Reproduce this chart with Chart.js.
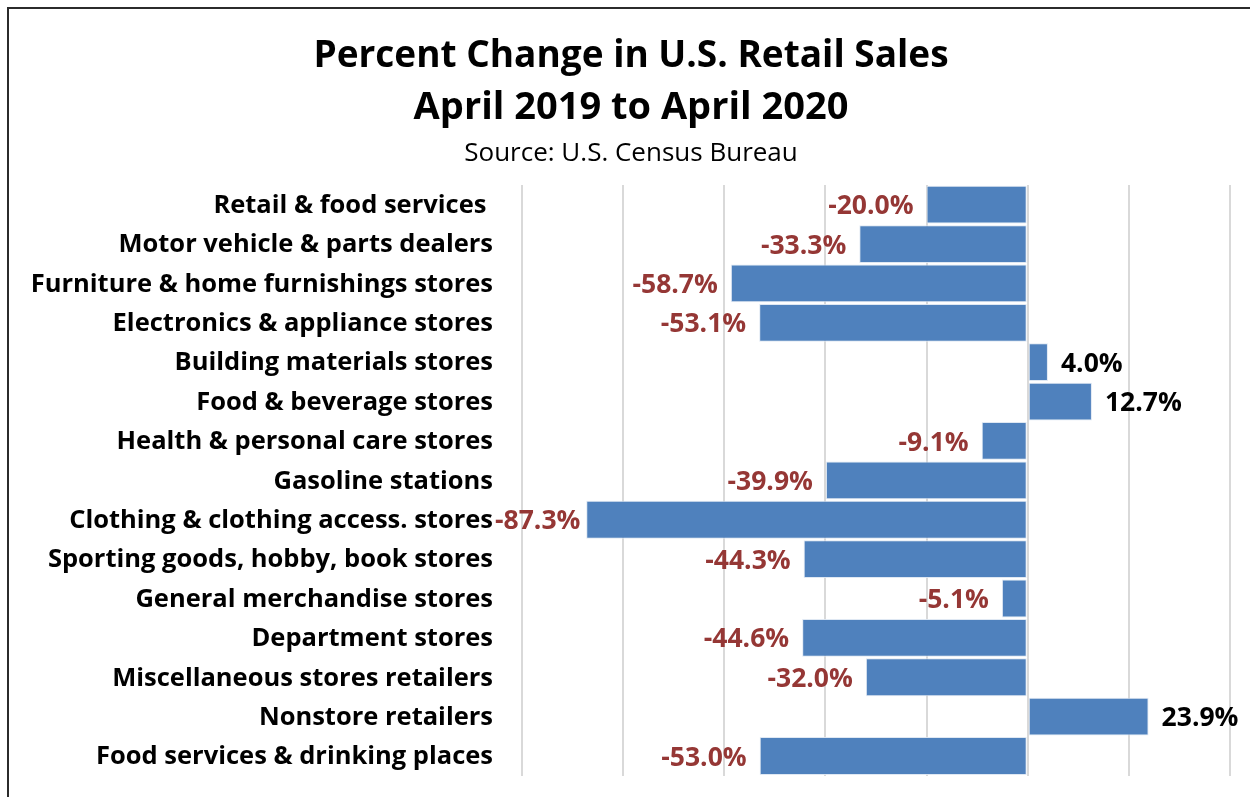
<!DOCTYPE html>
<html>
<head>
<meta charset="utf-8">
<script src="https://cdn.jsdelivr.net/npm/chart.js@4"></script>
<style>
  html, body { margin: 0; padding: 0; background: #fff; overflow: hidden; }
  #wrap { width: 1250px; height: 820px; position: relative; }
</style>
</head>
<body>
<div id="wrap"><canvas id="c"></canvas></div>
<script>
// Retail categories, top to bottom
const categories = [
  "Retail & food services ",
  "Motor vehicle & parts dealers",
  "Furniture & home furnishings stores",
  "Electronics & appliance stores",
  "Building materials stores",
  "Food & beverage stores",
  "Health & personal care stores",
  "Gasoline stations",
  "Clothing & clothing access. stores",
  "Sporting goods, hobby, book stores",
  "General merchandise stores",
  "Department stores",
  "Miscellaneous stores retailers",
  "Nonstore retailers",
  "Food services & drinking places"
];

// Percent change, April 2019 to April 2020
const pctChange = [-20.0, -33.3, -58.7, -53.1, 4.0, 12.7, -9.1, -39.9, -87.3, -44.3, -5.1, -44.6, -32.0, 23.9, -53.0];

const titleLines = ["Percent Change in U.S. Retail Sales", "April 2019 to April 2020"];
const subtitleText = "Source: U.S. Census Bureau";

const FONT = "'Open Sans', 'Noto Sans', sans-serif";

// Frame and heading
const headingPlugin = {
  id: 'heading',
  beforeDraw(chart) {
    const ctx = chart.ctx;
    ctx.save();
    ctx.fillStyle = '#fff';
    ctx.fillRect(0, 0, chart.width, chart.height);
    ctx.strokeStyle = '#2b2b2b';
    ctx.lineWidth = 2;
    ctx.beginPath();
    ctx.moveTo(chart.width, 8);
    ctx.lineTo(8, 8);
    ctx.lineTo(8, chart.height);
    ctx.stroke();

    ctx.fillStyle = '#000';
    ctx.textAlign = 'center';
    ctx.textBaseline = 'alphabetic';
    ctx.font = "bold 37px " + FONT;
    ctx.fillText(titleLines[0], 631, 67);
    ctx.font = "bold 38px " + FONT;
    ctx.fillText(titleLines[1], 631, 119);
    ctx.font = "26px " + FONT;
    ctx.fillText(subtitleText, 631, 161);
    ctx.restore();
  }
};

// Value labels just outside the end of each bar
const valueLabels = {
  id: 'valueLabels',
  afterDatasetsDraw(chart) {
    const ctx = chart.ctx;
    const meta = chart.getDatasetMeta(0);
    const area = chart.chartArea;
    ctx.save();
    ctx.font = "bold 26.5px " + FONT;
    ctx.textBaseline = 'middle';
    meta.data.forEach((bar, i) => {
      const v = pctChange[i];
      const txt = v.toFixed(1) + '%';
      if (v < 0) {
        ctx.fillStyle = '#953735';
        ctx.textAlign = 'right';
        let x = bar.x - 13;
        const w = ctx.measureText(txt).width;
        const minLeft = area.left - 27;
        if (x - w < minLeft) x = minLeft + w;
        ctx.fillText(txt, x, bar.y + 2);
      } else {
        ctx.fillStyle = '#000';
        ctx.textAlign = 'left';
        ctx.fillText(txt, bar.x + 13, bar.y + 2);
      }
    });
    ctx.restore();
  }
};

new Chart(document.getElementById('c'), {
  type: 'bar',
  data: {
    labels: categories,
    datasets: [{
      data: pctChange,
      backgroundColor: '#4F81BD',
      borderColor: 'rgba(220,230,242,0.9)',
      borderWidth: 1,
      borderSkipped: false,
      barPercentage: 0.96,
      categoryPercentage: 1.0
    }]
  },
  options: {
    indexAxis: 'y',
    responsive: true,
    maintainAspectRatio: false,
    animation: false,
    devicePixelRatio: 1,
    layout: { padding: { top: 185, right: 20, bottom: 0, left: 0 } },
    plugins: {
      legend: { display: false },
      tooltip: { enabled: false },
      title: { display: false }
    },
    scales: {
      x: {
        min: -100,
        max: 40,
        afterFit(scale) { scale.height = 0; },
        ticks: { display: false, stepSize: 20 },
        grid: { color: '#D9D9D9', lineWidth: 2, drawTicks: false },
        border: { display: false }
      },
      y: {
        afterFit(scale) { scale.width = 522; },
        ticks: {
          color: '#000',
          padding: 29,
          labelOffset: 1,
          autoSkip: false,
          font: { family: FONT, size: 25.5, weight: 'bold' }
        },
        grid: { display: false, drawTicks: false },
        border: { display: false }
      }
    }
  },
  plugins: [headingPlugin, valueLabels]
});
</script>
</body>
</html>
